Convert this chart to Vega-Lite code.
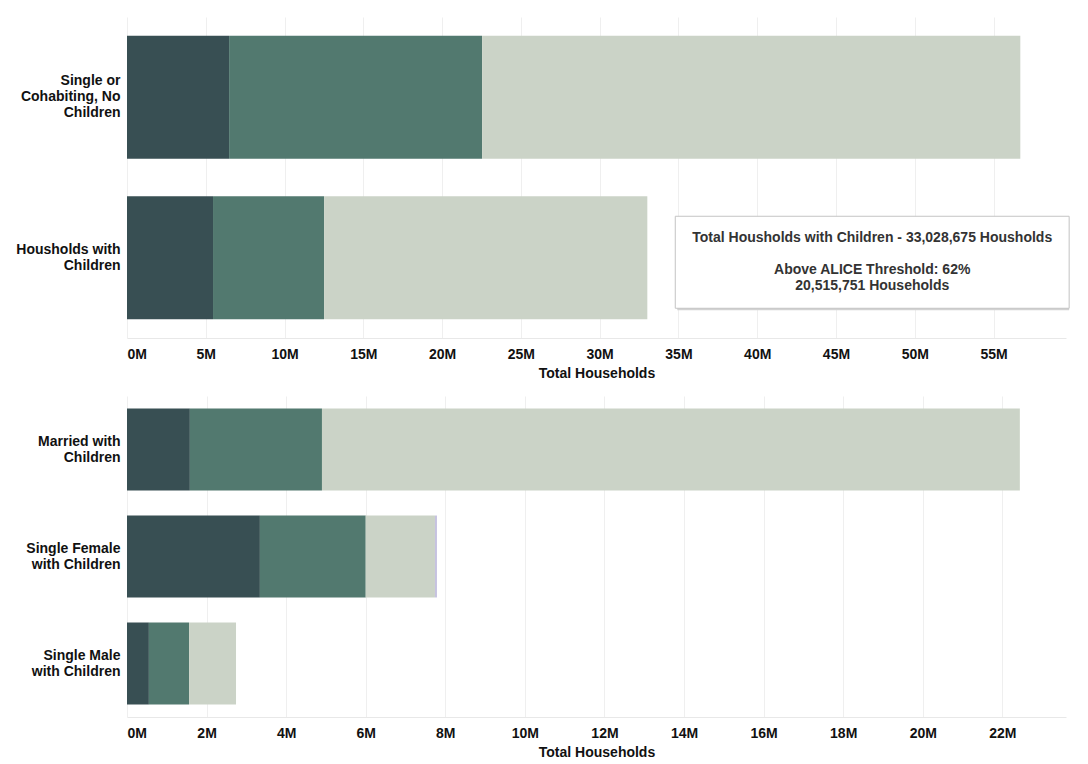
{
  "$schema": "https://vega.github.io/schema/vega-lite/v6.json",
  "background": "white",
  "padding": {"left": 15, "top": 17, "right": 0, "bottom": 0},
  "config": {
    "view": {"stroke": null},
    "font": "Liberation Sans",
    "concat": {"spacing": 16},
    "axisX": {
      "grid": true, "gridColor": "#efefef", "gridWidth": 1,
      "domain": true, "domainColor": "#e8e8e8",
      "ticks": false, "tickSize": 0,
      "labelFont": "Liberation Sans", "labelFontSize": 14, "labelFontWeight": "bold", "labelColor": "#111111",
      "labelPadding": 9, "labelFlush": true,
      "titleFont": "Liberation Sans", "titleFontSize": 14, "titleFontWeight": "bold", "titleColor": "#111111", "titlePadding": 5
    },
    "axisY": {
      "grid": false, "domain": false, "ticks": false, "tickSize": 0,
      "labelFont": "Liberation Sans", "labelFontSize": 14, "labelFontWeight": "bold", "labelColor": "#111111",
      "labelPadding": 7, "labelLineHeight": 16, "labelLimit": 200
    }
  },
  "datasets": {
    "top": [
      {"category": "Single or|Cohabiting, No|Children", "segment": "Poverty", "order": 1, "value": 6480000},
      {"category": "Single or|Cohabiting, No|Children", "segment": "ALICE", "order": 2, "value": 16060000},
      {"category": "Single or|Cohabiting, No|Children", "segment": "Above ALICE Threshold", "order": 3, "value": 34160000},
      {"category": "Housholds with|Children", "segment": "Poverty", "order": 1, "value": 5460000},
      {"category": "Housholds with|Children", "segment": "ALICE", "order": 2, "value": 7050000},
      {"category": "Housholds with|Children", "segment": "Above ALICE Threshold", "order": 3, "value": 20515751}
    ],
    "bottom": [
      {"category": "Married with|Children", "segment": "Poverty", "order": 1, "value": 1580000},
      {"category": "Married with|Children", "segment": "ALICE", "order": 2, "value": 3320000},
      {"category": "Married with|Children", "segment": "Above ALICE Threshold", "order": 3, "value": 17540000},
      {"category": "Single Female|with Children", "segment": "Poverty", "order": 1, "value": 3340000},
      {"category": "Single Female|with Children", "segment": "ALICE", "order": 2, "value": 2660000},
      {"category": "Single Female|with Children", "segment": "Above ALICE Threshold", "order": 3, "value": 1740000},
      {"category": "Single Female|with Children", "segment": "Other", "order": 4, "value": 50000},
      {"category": "Single Male|with Children", "segment": "Poverty", "order": 1, "value": 550000},
      {"category": "Single Male|with Children", "segment": "ALICE", "order": 2, "value": 1010000},
      {"category": "Single Male|with Children", "segment": "Above ALICE Threshold", "order": 3, "value": 1180000}
    ],
    "note": [
      {"category": "Housholds with|Children", "x1": 34800000, "x2": 59800000, "xm": 47300000,
       "head": "Total Housholds with Children - 33,028,675 Housholds",
       "body": ["Above ALICE Threshold: 62%", "20,515,751 Households"]}
    ]
  },
  "vconcat": [
    {
      "width": 939,
      "height": 321,
      "layer": [
        {
          "data": {"name": "top"},
          "mark": {"type": "bar"},
          "encoding": {
            "y": {"field": "category", "type": "nominal", "sort": null, "title": null,
                  "scale": {"paddingInner": 0.234, "paddingOuter": 0.117},
                  "axis": {"labelExpr": "split(datum.value, '|')",
                           "labelOffset": {"condition": {"test": "indexof(datum.value, 'Cohabiting') >= 0", "value": -16}, "value": -8}}},
            "x": {"field": "value", "type": "quantitative", "stack": "zero",
                  "title": "Total Households",
                  "scale": {"domain": [0, 59600000], "nice": false},
                  "axis": {"values": [0, 5000000, 10000000, 15000000, 20000000, 25000000, 30000000, 35000000, 40000000, 45000000, 50000000, 55000000],
                           "labelExpr": "format(datum.value / 1000000, 'd') + 'M'"}},
            "order": {"field": "order", "type": "quantitative"},
            "color": {"field": "segment", "type": "nominal", "legend": null,
                      "scale": {"domain": ["Poverty", "ALICE", "Above ALICE Threshold", "Other"],
                                "range": ["#384f53", "#52796f", "#cbd3c7", "#c6c2e0"]}}
          }
        },
        {
          "data": {"name": "note"},
          "mark": {"type": "rect", "fill": "#d2d2d2", "height": 92, "xOffset": 2, "yOffset": 6.5, "clip": false},
          "encoding": {
            "y": {"field": "category", "type": "nominal", "sort": null},
            "x": {"field": "x1", "type": "quantitative"},
            "x2": {"field": "x2"}
          }
        },
        {
          "data": {"name": "note"},
          "mark": {"type": "rect", "fill": "white", "stroke": "#c4c4c4", "strokeWidth": 1, "height": 92, "yOffset": 4.5, "clip": false},
          "encoding": {
            "y": {"field": "category", "type": "nominal", "sort": null},
            "x": {"field": "x1", "type": "quantitative"},
            "x2": {"field": "x2"}
          }
        },
        {
          "data": {"name": "note"},
          "mark": {"type": "text", "align": "center", "baseline": "middle", "yOffset": -19.5,
                   "font": "Liberation Sans", "fontSize": 14, "fontWeight": "bold", "color": "#333333"},
          "encoding": {
            "y": {"field": "category", "type": "nominal", "sort": null},
            "x": {"field": "xm", "type": "quantitative"},
            "text": {"field": "head", "type": "nominal"}
          }
        },
        {
          "data": {"name": "note"},
          "mark": {"type": "text", "align": "center", "baseline": "middle", "lineHeight": 16, "yOffset": 12.5,
                   "font": "Liberation Sans", "fontSize": 14, "fontWeight": "bold", "color": "#333333"},
          "encoding": {
            "y": {"field": "category", "type": "nominal", "sort": null},
            "x": {"field": "xm", "type": "quantitative"},
            "text": {"field": "body", "type": "nominal"}
          }
        }
      ]
    },
    {
      "width": 939,
      "height": 321,
      "data": {"name": "bottom"},
      "mark": {"type": "bar"},
      "encoding": {
        "y": {"field": "category", "type": "nominal", "sort": null, "title": null,
              "scale": {"paddingInner": 0.234, "paddingOuter": 0.117},
              "axis": {"labelExpr": "split(datum.value, '|')", "labelOffset": -8}},
        "x": {"field": "value", "type": "quantitative", "stack": "zero",
              "title": "Total Households",
              "scale": {"domain": [0, 23600000], "nice": false},
              "axis": {"values": [0, 2000000, 4000000, 6000000, 8000000, 10000000, 12000000, 14000000, 16000000, 18000000, 20000000, 22000000],
                       "labelExpr": "format(datum.value / 1000000, 'd') + 'M'"}},
        "order": {"field": "order", "type": "quantitative"},
        "color": {"field": "segment", "type": "nominal", "legend": null,
                  "scale": {"domain": ["Poverty", "ALICE", "Above ALICE Threshold", "Other"],
                            "range": ["#384f53", "#52796f", "#cbd3c7", "#c6c2e0"]}}
      }
    }
  ]
}
